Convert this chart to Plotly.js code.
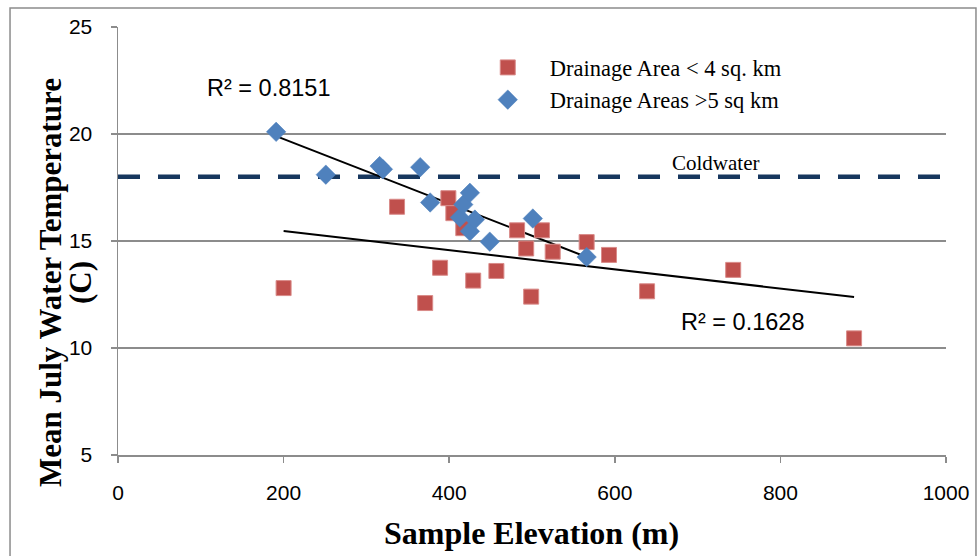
<!DOCTYPE html>
<html><head><meta charset="utf-8">
<script src="https://cdn.plot.ly/plotly-3.0.1.min.js"></script>
<style>html,body{margin:0;padding:0;background:#fff}#chart{width:977px;height:556px}</style>
</head><body><div id="chart"></div>
<script>
// Drainage Area < 4 sq. km
const smallX = [200, 337, 371, 389, 399, 405, 417, 429, 457, 482, 493, 499, 512, 525, 566, 593, 639, 743, 889];
const smallY = [12.8, 16.6, 12.1, 13.75, 17.0, 16.3, 15.6, 13.15, 13.6, 15.5, 14.65, 12.4, 15.5, 14.5, 14.95, 14.35, 12.65, 13.65, 10.45];
// Drainage Areas > 5 sq km
const largeX = [191, 251, 316, 320, 365, 377, 413, 417, 425, 425, 431, 449, 501, 566];
const largeY = [20.1, 18.1, 18.5, 18.35, 18.45, 16.8, 16.1, 16.7, 17.25, 15.45, 16.0, 14.97, 16.05, 14.25];
// Linear trendlines (endpoints)
const smallTrendX = [200, 889];
const smallTrendY = [15.47, 12.38];
const largeTrendX = [191, 566];
const largeTrendY = [19.9, 14.25];
// Coldwater threshold
const coldX = [0, 1000];
const coldY = [18, 18];
const xTicks = [0, 200, 400, 600, 800, 1000];
const yTicks = [5, 10, 15, 20, 25];

const sans = '"Liberation Sans", Arial, sans-serif';
const tickFont = {family: sans, size: 21, color: '#000'};
const serif = '"Liberation Serif", "Times New Roman", serif';

const traces = [
  {x: coldX, y: coldY, mode: 'lines', line: {color: '#17375E', width: 4.5, dash: '22px,18px'}, showlegend: false, hoverinfo: 'skip'},
  {x: smallTrendX, y: smallTrendY, mode: 'lines', line: {color: '#000', width: 2}, showlegend: false},
  {x: largeTrendX, y: largeTrendY, mode: 'lines', line: {color: '#000', width: 2}, showlegend: false},
  {x: smallX, y: smallY, mode: 'markers', name: 'Drainage Area < 4 sq. km',
   marker: {symbol: 'square', size: 15, color: '#C0504D', line: {color: '#D98B89', width: 1}}},
  {x: largeX, y: largeY, mode: 'markers', name: 'Drainage Areas >5 sq km',
   marker: {symbol: 'diamond', size: 15, color: '#4F81BD', line: {color: '#4F81BD', width: 0.5}}}
];

const layout = {
  width: 977, height: 556,
  margin: {l: 118, r: 31, t: 27, b: 101},
  paper_bgcolor: '#fff', plot_bgcolor: '#fff',
  xaxis: {range: [0, 1000], tickvals: xTicks, ticktext: xTicks.map(String), showgrid: false, zeroline: false,
    showline: true, linecolor: '#8c8c8c', linewidth: 2, ticks: 'outside', ticklen: 6, tickcolor: '#8c8c8c', tickwidth: 1.5,
    tickfont: tickFont, ticklabelstandoff: 12},
  yaxis: {range: [5, 25], tickvals: yTicks, ticktext: yTicks.map(String), showgrid: true, gridcolor: '#8c8c8c', gridwidth: 2,
    zeroline: false, showline: true, linecolor: '#8c8c8c', linewidth: 1.5, ticks: 'outside', ticklen: 6, tickcolor: '#8c8c8c', tickwidth: 1.5,
    tickfont: tickFont, ticklabelstandoff: 14},
  legend: {x: 0.42, xanchor: 'left', y: 0.955, yanchor: 'top', bgcolor: 'rgba(0,0,0,0)',
    font: {family: serif, size: 22.5, color: '#000'}, tracegroupgap: 0, itemwidth: 74},
  annotations: [
    {x: 182, y: 22.15, xref: 'x', yref: 'y', text: 'R² = 0.8151', showarrow: false, font: {family: sans, size: 23.5, color: '#000'}},
    {x: 754, y: 11.2, xref: 'x', yref: 'y', text: 'R² = 0.1628', showarrow: false, font: {family: sans, size: 23.5, color: '#000'}},
    {x: 722, y: 18.65, xref: 'x', yref: 'y', text: 'Coldwater', showarrow: false, font: {family: serif, size: 21, color: '#000'}},
    {x: 0.499, y: -0.182, xref: 'paper', yref: 'paper', xanchor: 'center', yanchor: 'middle', showarrow: false,
     text: 'Sample Elevation (m)', font: {family: serif, size: 32, color: '#000', weight: 'bold'}},
    {x: (50 - 118) / 828, y: (455 - 283) / 428, xref: 'paper', yref: 'paper', xanchor: 'center', yanchor: 'middle', showarrow: false,
     textangle: -90, text: 'Mean July Water Temperature', font: {family: serif, size: 31, color: '#000', weight: 'bold'}},
    {x: (80 - 118) / 828, y: (455 - 283) / 428, xref: 'paper', yref: 'paper', xanchor: 'center', yanchor: 'middle', showarrow: false,
     textangle: -90, text: '(C)', font: {family: serif, size: 31, color: '#000', weight: 'bold'}}
  ],
  shapes: [
    {type: 'rect', xref: 'paper', yref: 'paper', x0: -0.1304, x1: 1.0362, y0: -0.24, y1: 1.0444,
     line: {color: '#8c8c8c', width: 1.5}, fillcolor: 'rgba(0,0,0,0)', layer: 'below'}
  ]
};

Plotly.newPlot('chart', traces, layout, {displayModeBar: false, staticPlot: true});
</script></body></html>
